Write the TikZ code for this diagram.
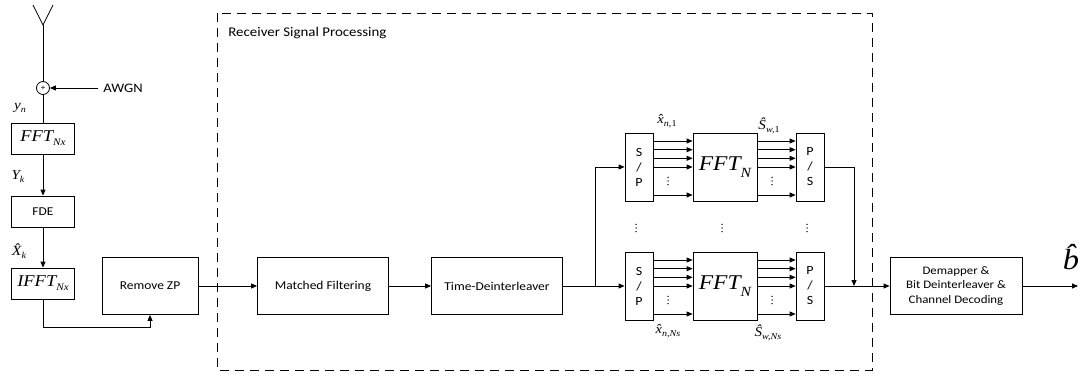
\documentclass[tikz,border=0pt]{standalone}
\usepackage{fontspec}
\setmainfont{Carlito}[FakeStretch=1.12]
\newfontfamily\tms{Liberation Serif}[FakeStretch=1.12]
\usetikzlibrary{arrows.meta}

% italic serif symbol with a lowered subscript: \symsub{size}{base}{subsize}{drop}{sub}
\newcommand\symsub[5]{{\tms\itshape\fontsize{#1}{#1}\selectfont #2\raisebox{-#4}{\fontsize{#3}{#3}\selectfont #5}}}
% three stacked dots centred on a point
\newcommand\dotcol[1]{\fill (#1) ++(0,-3.6) circle (0.75) ++(0,3.6) circle (0.75) ++(0,3.6) circle (0.75);}

\begin{document}
\begin{tikzpicture}[x=1pt,y=-1pt, line width=0.8pt,
  box/.style={draw, inner sep=0pt, align=center, font=\fontsize{12}{14.3}\selectfont},
  small/.style={box, minimum width=63pt, minimum height=31pt},
  mainbox/.style={box, minimum height=57pt},
  conv/.style={box, minimum width=28pt, minimum height=68pt, font=\fontsize{12.5}{15}\selectfont},
  fftbox/.style={box, minimum width=64pt, minimum height=68pt},
  arr/.style={-{Triangle[length=6pt,width=5pt]}},
  lbl/.style={inner sep=0pt},
]
\useasboundingbox (0,0) rectangle (1083,374);

% processing frame
\draw[line width=0.7pt, dash pattern=on 9pt off 6pt] (217,13) rectangle (872,370);
\node[lbl, anchor=west, font=\fontsize{13.3}{15}\selectfont] (title) at (228,33) {Receiver Signal Processing};

% antenna and noise adder
\coordinate (ant) at (43,25);
\coordinate (armL) at (33,5);
\coordinate (armR) at (53,5);
\draw (armL) -- (ant) -- (armR);
\node[draw, circle, minimum size=13pt, inner sep=0pt, font=\fontsize{8}{8}\selectfont] (add) at (43,88) {+};
\draw (ant) -- (add);
\node[lbl, anchor=west, font=\fontsize{13}{15}\selectfont] (awgn) at (103,88) {AWGN};
\coordinate (awgnin) at (98,88);
\draw[arr] (awgnin) -- (add);

% front-end column
\node[small] (fftx) at (43,138.5) {\symsub{16.5}{FFT}{10}{4pt}{Nx}};
\node[small] (fde) at (43,211.5) {FDE};
\node[small] (ifft) at (43,283.5) {\symsub{16.5}{IFFT}{10}{4pt}{Nx}};

\draw (add) -- (fftx);
\draw[arr] (fftx) -- (fde);
\draw[arr] (fde) -- (ifft);

\node[lbl] (yn) at (20,108) {\symsub{13.5}{y}{9}{3pt}{n}};
\node[lbl] (Yk) at (18,177) {\symsub{13.5}{Y}{9}{3pt}{k}};
\node[lbl] (Xk) at (19,251) {\symsub{14}{\^X}{9}{3pt}{k}};

% main chain
\node[mainbox, minimum width=96pt] (rzp) at (150,286) {Remove ZP};
\node[mainbox, minimum width=131pt] (mf) at (323,286) {Matched Filtering};
\node[mainbox, minimum width=131pt] (tdi) at (497,286) {Time-Deinterleaver};
\node[mainbox, minimum width=132pt, font=\fontsize{11.5}{14.3}\selectfont] (dem) at (956,286) {Demapper \&\\Bit Deinterleaver \&\\Channel Decoding};

\coordinate (ifftturn) at (43,327);
\draw[arr] (ifft) -- (ifftturn) -| (rzp);
\draw[arr] (rzp) -- (mf);
\draw[arr] (mf) -- (tdi);

% parallel FFT branches
\foreach \r/\c in {1/167, 2/286} {
  \node[conv] (sp\r) at (639,\c) {S\\/\\P};
  \node[fftbox] (fft\r) at (725,\c) {\symsub{21}{FFT}{14}{7pt}{N}};
  \node[conv] (ps\r) at (810,\c) {P\\/\\S};
  \foreach \s in {26,17.3,8.7,0,-28} {
    \draw[arr] ([yshift=\s pt]sp\r.east) -- ([yshift=\s pt]fft\r.west);
    \draw[arr] ([yshift=\s pt]fft\r.east) -- ([yshift=\s pt]ps\r.west);
  }
  \dotcol{668,\c+14}
  \dotcol{772,\c+14}
}
\dotcol{636,228}
\dotcol{722,228}
\dotcol{807,228}

\node[lbl] (xa) at (667,121) {\symsub{13}{\^x}{9}{3pt}{n,\upshape 1}};
\node[lbl] (sa) at (769,126) {\symsub{13.5}{\^S}{9}{3pt}{w,\upshape 1}};
\node[lbl] (xb) at (668,331) {\symsub{13}{\^x}{9}{3pt}{n,Ns}};
\node[lbl] (sb) at (768,333) {\symsub{13.5}{\^S}{9}{3pt}{w,Ns}};

% split and merge
\coordinate (split) at (595,286);
\coordinate (merge) at (854,286);
\draw (tdi) -- (split);
\draw[arr] (split) |- (sp1);
\draw[arr] (split) -- (sp2);
\draw[arr] (ps1) -| (merge);
\draw (ps2) -- (merge);
\draw[arr] (merge) -- (dem);

% output
\coordinate (out) at (1078,286);
\draw[arr] (dem) -- (out);
\node[lbl] (bhat) at (1071,257) {{\tms\itshape\fontsize{29}{29}\selectfont \^b}};
\end{tikzpicture}
\end{document}
